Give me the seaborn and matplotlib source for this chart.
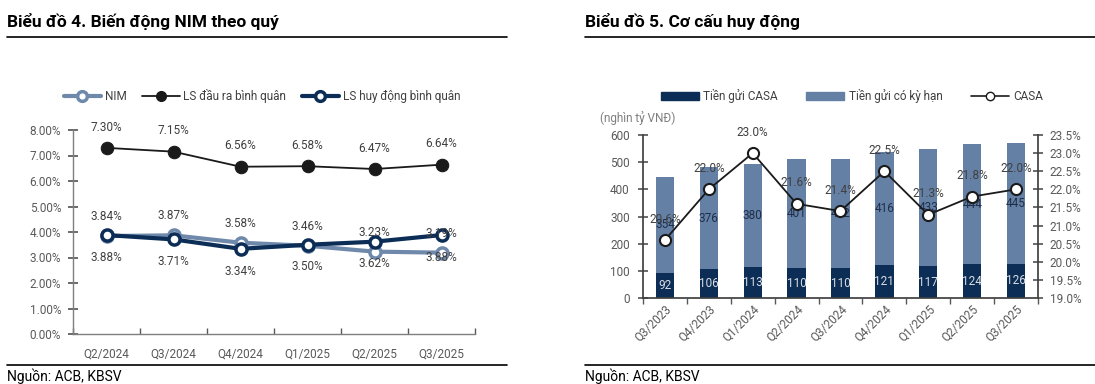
import matplotlib
matplotlib.use("Agg")
import matplotlib.pyplot as plt
from matplotlib.lines import Line2D
from matplotlib.patches import Patch
import seaborn as sns
import numpy as np

# chart 4 data
quarters_nim = ["Q2/2024", "Q3/2024", "Q4/2024", "Q1/2025", "Q2/2025", "Q3/2025"]
nim = [3.84, 3.87, 3.58, 3.46, 3.23, 3.19]
ls_dau_ra = [7.30, 7.15, 6.56, 6.58, 6.47, 6.64]
ls_huy_dong = [3.88, 3.71, 3.34, 3.50, 3.62, 3.88]

# chart 5 data
quarters_dep = ["Q3/2023", "Q4/2023", "Q1/2024", "Q2/2024", "Q3/2024",
                "Q4/2024", "Q1/2025", "Q2/2025", "Q3/2025"]
tien_gui_casa = [92, 106, 113, 110, 110, 121, 117, 124, 126]
tien_gui_ky_han = [354, 376, 380, 401, 402, 416, 433, 444, 445]
casa_ratio = [20.6, 22.0, 23.0, 21.6, 21.4, 22.5, 21.3, 21.8, 22.0]

NAVY = "#0b2d56"
LIGHT = "#6480a5"
NIM_C = "#6f89ab"
TXT = "#404040"
TICK = "#595959"
FS = 8.5

sns.set_theme(style="white")
plt.rcParams["font.family"] = ["Roboto", "DejaVu Sans"]

W, H = 1095, 384
fig = plt.figure(figsize=(W / 100, H / 100), dpi=100)


def box(x0, y0, x1, y1):
    return [x0 / W, 1 - y1 / H, (x1 - x0) / W, (y1 - y0) / H]


def hline(x0, x1, y):
    fig.add_artist(Line2D([x0 / W, x1 / W], [1 - y / H, 1 - y / H],
                          transform=fig.transFigure, color="black", lw=1.2))


# titles and rules
fig.text(7 / W, 1 - 22 / H, "Biểu đồ 4. Biến động NIM theo quý", fontsize=12.5,
         fontweight="bold", va="center", ha="left", color="black")
fig.text(585 / W, 1 - 22 / H, "Biểu đồ 5. Cơ cấu huy động", fontsize=12.5,
         fontweight="bold", va="center", ha="left", color="black")
hline(7, 507, 37)
hline(585, 1095, 37)
hline(7, 507, 365)
hline(585, 1095, 365)
fig.text(7 / W, 1 - 376 / H, "Nguồn: ACB, KBSV", fontsize=10, va="center", color="black")
fig.text(585 / W, 1 - 376 / H, "Nguồn: ACB, KBSV", fontsize=10, va="center", color="black")

# ---------- chart 4 ----------
ax1 = fig.add_axes(box(73, 130, 475, 334))
sns.lineplot(x=quarters_nim, y=nim, ax=ax1, color=NIM_C, lw=3, marker="o",
             markersize=8, markerfacecolor="white", markeredgecolor=NIM_C,
             markeredgewidth=2.5, sort=False)
sns.lineplot(x=quarters_nim, y=ls_dau_ra, ax=ax1, color="#1a1a1a", lw=1.3, marker="o",
             markersize=9, markerfacecolor="#1a1a1a", markeredgecolor="#1a1a1a", sort=False)
sns.lineplot(x=quarters_nim, y=ls_huy_dong, ax=ax1, color=NAVY, lw=3, marker="o",
             markersize=8, markerfacecolor="white", markeredgecolor=NAVY,
             markeredgewidth=2.5, sort=False)

for i in range(len(quarters_nim)):
    ax1.annotate(f"{nim[i]:.2f}%", (i, nim[i]), xytext=(0, 14), textcoords="offset points",
                 ha="center", va="center", fontsize=FS, color=TXT)
    ax1.annotate(f"{ls_dau_ra[i]:.2f}%", (i, ls_dau_ra[i]), xytext=(0, 15),
                 textcoords="offset points", ha="center", va="center", fontsize=FS, color=TXT)
    ax1.annotate(f"{ls_huy_dong[i]:.2f}%", (i, ls_huy_dong[i]), xytext=(0, -16),
                 textcoords="offset points", ha="center", va="center", fontsize=FS, color=TXT)

ax1.set_xlim(-0.5, len(quarters_nim) - 0.5)
ax1.set_ylim(0, 8)
ax1.set_yticks(np.arange(0, 8.01, 1))
ax1.set_yticklabels([f"{v:.2f}%" for v in np.arange(0, 8.01, 1)])
ax1.set_xticks(range(len(quarters_nim)))
ax1.set_xticklabels(quarters_nim)
ax1.set_xticks(np.arange(-0.5, len(quarters_nim), 1), minor=True)
ax1.tick_params(axis="x", which="major", length=0, pad=10, labelsize=FS, labelcolor=TICK)
ax1.tick_params(axis="x", which="minor", direction="in", length=4, color=TICK, bottom=True)
ax1.tick_params(axis="y", direction="inout", length=7, color=TICK, left=True,
                labelsize=FS, labelcolor=TICK, pad=5)
for s in ["top", "right"]:
    ax1.spines[s].set_visible(False)
for s in ["left", "bottom"]:
    ax1.spines[s].set_color("#7f7f7f")
    ax1.spines[s].set_linewidth(1)
ax1.set_xlabel("")
ax1.set_ylabel("")

h1 = [Line2D([], [], color=NIM_C, lw=3, marker="o", markersize=7, markerfacecolor="white",
             markeredgecolor=NIM_C, markeredgewidth=2.5),
      Line2D([], [], color="#1a1a1a", lw=1.3, marker="o", markersize=7, markerfacecolor="#1a1a1a"),
      Line2D([], [], color=NAVY, lw=3, marker="o", markersize=7, markerfacecolor="white",
             markeredgecolor=NAVY, markeredgewidth=2.5)]
fig.legend(h1, ["NIM", "LS đầu ra bình quân", "LS huy động bình quân"], ncol=3,
           loc="center", bbox_to_anchor=(262 / W, 1 - 96 / H), frameon=False,
           fontsize=FS, handlelength=3.2, handletextpad=0.3, columnspacing=1.3,
           labelcolor=TXT)

# ---------- chart 5 ----------
ax2 = fig.add_axes(box(643, 135, 1038, 298))
totals = [c + t for c, t in zip(tien_gui_casa, tien_gui_ky_han)]
sns.barplot(x=quarters_dep, y=totals, ax=ax2, color=LIGHT, width=0.42,
            saturation=1, edgecolor="none")
sns.barplot(x=quarters_dep, y=tien_gui_casa, ax=ax2, color=NAVY, width=0.42,
            saturation=1, edgecolor="none")
for i in range(len(quarters_dep)):
    ax2.text(i, tien_gui_casa[i] / 2, str(tien_gui_casa[i]), ha="center", va="center",
             fontsize=FS, color="#d9dde3")
    ax2.text(i, tien_gui_casa[i] + tien_gui_ky_han[i] / 2, str(tien_gui_ky_han[i]),
             ha="center", va="center", fontsize=FS, color="#1f2f4a")

ax2.set_xlim(-0.5, len(quarters_dep) - 0.5)
ax2.set_ylim(0, 600)
ax2.set_yticks(range(0, 601, 100))
ax2.set_xticks(np.arange(-0.5, len(quarters_dep), 1), minor=True)
ax2.set_xticks(range(len(quarters_dep)))
ax2.set_xticklabels(quarters_dep, rotation=45, ha="right", rotation_mode="anchor")
ax2.tick_params(axis="x", which="major", length=0, pad=3, labelsize=FS, labelcolor=TICK)
ax2.tick_params(axis="x", which="minor", direction="out", length=4, color=TICK, bottom=True)
ax2.tick_params(axis="y", direction="inout", length=7, color=TICK, left=True,
                labelsize=FS, labelcolor=TICK, pad=6)
for s in ["top", "right"]:
    ax2.spines[s].set_visible(False)
for s in ["left", "bottom"]:
    ax2.spines[s].set_color("#404040")
ax2.set_xlabel("")
ax2.set_ylabel("")

ax3 = ax2.twinx()
sns.lineplot(x=list(range(len(quarters_dep))), y=casa_ratio, ax=ax3, color="#1a1a1a", lw=1.3,
             marker="o", markersize=8, markerfacecolor="white", markeredgecolor="#1a1a1a",
             markeredgewidth=1.5, sort=False)
for i in range(len(quarters_dep)):
    ax3.annotate(f"{casa_ratio[i]:.1f}%", (i, casa_ratio[i]), xytext=(0, 15),
                 textcoords="offset points", ha="center", va="center", fontsize=FS, color=TXT)
ax3.set_ylim(19.0, 23.5)
ax3.set_yticks(np.arange(19.0, 23.51, 0.5))
ax3.set_yticklabels([f"{v:.1f}%" for v in np.arange(19.0, 23.51, 0.5)])
ax3.tick_params(axis="y", direction="inout", length=7, color=TICK, right=True,
                labelsize=FS, labelcolor=TICK, pad=5)
for s in ["top", "left", "bottom"]:
    ax3.spines[s].set_visible(False)
ax3.spines["right"].set_color("#404040")
ax3.set_xlabel("")
ax3.set_ylabel("")

fig.text(600 / W, 1 - 118 / H, "(nghìn tỷ VNĐ)", fontsize=FS, color="#7f7f7f", va="center")

h2 = [Patch(color=NAVY), Patch(color=LIGHT),
      Line2D([], [], color="#1a1a1a", lw=1.2, marker="o", markersize=6,
             markerfacecolor="white", markeredgecolor="#1a1a1a")]
fig.legend(h2, ["Tiền gửi CASA", "Tiền gửi có kỳ hạn", "CASA"], ncol=3, loc="center",
           bbox_to_anchor=(852 / W, 1 - 96 / H), frameon=False, fontsize=FS,
           handlelength=3.2, handleheight=0.6, handletextpad=0.4, columnspacing=2.4,
           labelcolor=TXT)

fig.savefig("out.png", dpi=100)
